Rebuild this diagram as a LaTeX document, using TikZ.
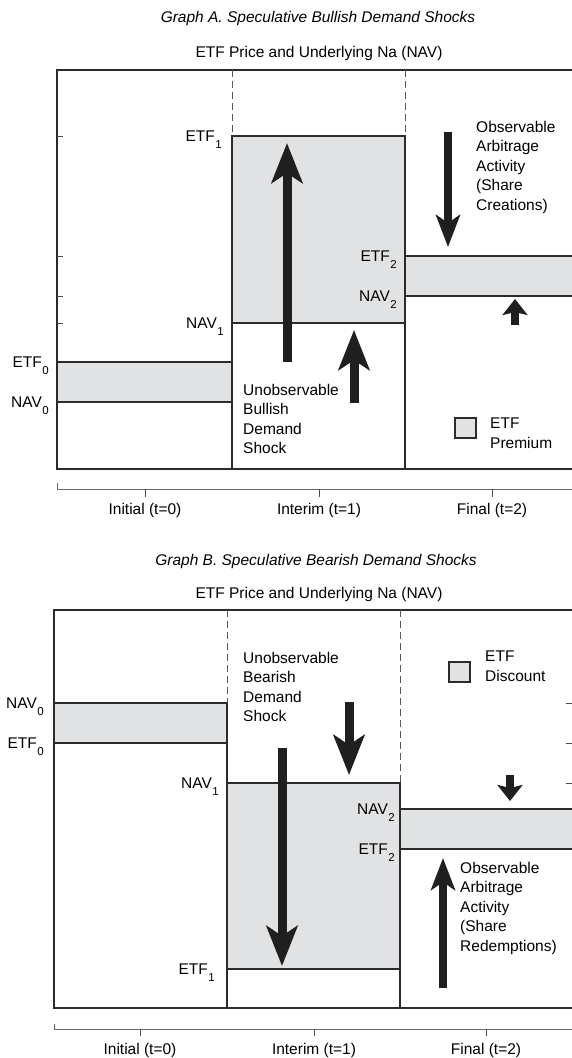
\documentclass[tikz,border=0pt]{standalone}
\usepackage{fontspec}
\setmainfont{Liberation Sans}
\usetikzlibrary{arrows.meta,positioning,calc}

\definecolor{bandgray}{HTML}{E1E2E4}
\definecolor{inkgray}{HTML}{2B2B2B}
\newcommand{\lvl}[2]{#1\kern0.5pt\raisebox{-7.5pt}{\fontsize{11.5}{12}\selectfont #2}}

\begin{document}
\begin{tikzpicture}[
    x=1pt, y=-1pt,
    font=\fontsize{15.5}{19.5}\selectfont,
    frame/.style={draw=inkgray, line width=1.9pt},
    band/.style={fill=bandgray, draw=inkgray, line width=1.9pt},
    divider/.style={draw=black!65, line width=0.6pt, dash pattern=on 7pt off 4pt},
    axis/.style={draw=black!60, line width=0.8pt},
    tick/.style={draw=black!70, line width=0.9pt},
    level/.style={anchor=base east, inner sep=0pt},
    note/.style={align=left, anchor=north west, inner sep=0pt},
    period/.style={inner sep=0pt},
    caption/.style={font=\fontsize{15.5}{19}\selectfont\itshape, inner sep=0pt},
    heading/.style={inner sep=0pt},
    key/.style={fill=bandgray, draw=inkgray, line width=1.6pt},
    bigShock/.style={-{Stealth[length=40pt,width=31pt,inset=10pt]}, line width=9pt, draw=black!88},
    arbShock/.style={-{Stealth[length=32pt,width=24pt,inset=8pt]}, line width=8pt, draw=black!88},
    nudge/.style={-{Stealth[length=16pt,width=25pt,inset=3pt]}, line width=8pt, draw=black!88}
]
\useasboundingbox (0,0) rectangle (572,1058);
\clip (0,0) rectangle (572,1058);

% Graph A
\node[caption] (titleA) at (318,18) {Graph A. Speculative Bullish Demand Shocks};
\node[heading] (headA) at (319,53) {ETF Price and Underlying Na (NAV)};

\filldraw[band] (57,362) rectangle (232,402);
\filldraw[band] (232,136) rectangle (405,323);
\filldraw[band] (405,256) rectangle (590,296);
\draw[frame] (590,70) -- (57,70) -- (57,469) -- (590,469);
\draw[frame] (232,323) -- (232,469);
\draw[frame] (405,296) -- (405,469);
\draw[divider] (232,70) -- (232,136);
\draw[divider] (405,70) -- (405,136);
\foreach \y in {136,256,296,323}
    \draw[tick] (57,\y) -- (63,\y);

\node[level] (etfOneA) at (222,141) {\lvl{ETF}{1}};
\node[level] (navOneA) at (224,328) {\lvl{NAV}{1}};
\node[level] (etfZeroA) at (49,367) {\lvl{ETF}{0}};
\node[level] (navZeroA) at (49,407) {\lvl{NAV}{0}};
\node[level] (etfTwoA) at (397,261) {\lvl{ETF}{2}};
\node[level] (navTwoA) at (397,301) {\lvl{NAV}{2}};

\draw[bigShock] (287,362) -- (287,143);
\draw[bigShock] (354,403) -- (354,330);
\draw[arbShock] (448,132) -- (448,247);
\draw[nudge] (515,325) -- (515,299);

\node[note] (shockA) at (243,384) {Unobservable\\Bullish\\Demand\\Shock};
\node[note] (arbA) at (476,121) {Observable\\Arbitrage\\Activity\\(Share\\Creations)};
\draw[key] (455,418) rectangle (476,438);
\node[note] (keyA) at (490,418) {ETF\\Premium};

\draw[axis] (57,483) -- (57,489) -- (590,489);
\foreach \x/\t [count=\i] in {145/Initial (t=0),319/Interim (t=1),492/Final (t=2)}{
    \draw[tick] (\x,489) -- (\x,497);
    \node[period] (periodA\i) at (\x,510) {\t};
}

% Graph B
\node[caption] (titleB) at (316,561) {Graph B. Speculative Bearish Demand Shocks};
\node[heading] (headB) at (319,594) {ETF Price and Underlying Na (NAV)};

\filldraw[band] (54,703) rectangle (227,743);
\filldraw[band] (227,783) rectangle (400,969);
\filldraw[band] (400,809) rectangle (590,849);
\draw[frame] (590,610) -- (54,610) -- (54,1008) -- (590,1008);
\draw[frame] (227,703) -- (227,1008);
\draw[frame] (400,783) -- (400,1008);
\draw[divider] (227,610) -- (227,703);
\draw[divider] (400,610) -- (400,783);
\foreach \y in {703,743,783}
    \draw[tick] (566,\y) -- (590,\y);

\node[level] (navZeroB) at (44,708) {\lvl{NAV}{0}};
\node[level] (etfZeroB) at (44,748) {\lvl{ETF}{0}};
\node[level] (navOneB) at (219,788) {\lvl{NAV}{1}};
\node[level] (navTwoB) at (395,814) {\lvl{NAV}{2}};
\node[level] (etfTwoB) at (395,854) {\lvl{ETF}{2}};
\node[level] (etfOneB) at (215,974) {\lvl{ETF}{1}};

\draw[bigShock] (282,748) -- (282,966);
\draw[bigShock] (349,702) -- (349,775);
\draw[nudge] (510,775) -- (510,801);
\draw[arbShock] (443,988) -- (443,858);

\node[note] (shockB) at (243,652) {Unobservable\\Bearish\\Demand\\Shock};
\draw[key] (449,662) rectangle (470,682);
\node[note] (keyB) at (485,651) {ETF\\Discount};
\node[note] (arbB) at (460,862) {Observable\\Arbitrage\\Activity\\(Share\\Redemptions)};

\draw[axis] (54,1024) -- (54,1029) -- (590,1029);
\foreach \x/\t [count=\i] in {140/Initial (t=0),314/Interim (t=1),486/Final (t=2)}{
    \draw[tick] (\x,1029) -- (\x,1036);
    \node[period] (periodB\i) at (\x,1050) {\t};
}

\end{tikzpicture}
\end{document}
